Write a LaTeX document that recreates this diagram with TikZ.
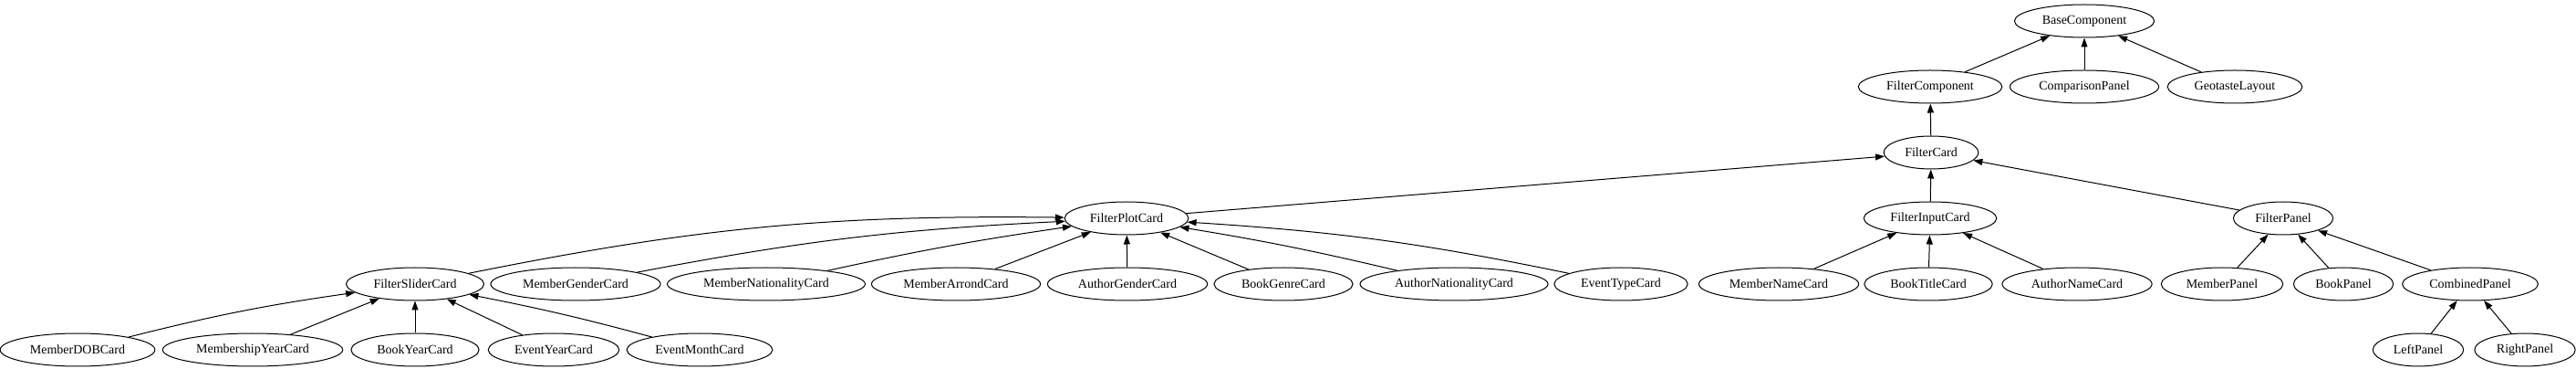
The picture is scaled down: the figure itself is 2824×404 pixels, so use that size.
\documentclass[tikz,border=0pt]{standalone}
\usepackage{fontspec}
\setmainfont{Liberation Serif}
\usepackage{tikz}
\usetikzlibrary{shapes.geometric, arrows.meta, positioning}

\begin{document}
\begin{tikzpicture}[
    x=1pt, y=1pt,
    cls/.style={ellipse, draw, line width=1pt, minimum height=36pt, inner xsep=7.9pt, inner ysep=0pt, font=\fontsize{14}{16}\selectfont},
    arrow/.style={-{Triangle[length=10pt, width=7pt]}, line width=1pt}
]
\useasboundingbox (0,0) rectangle (2824,404);

% Top
\node (base) [cls] at (2285,381) {BaseComponent};
\node (filtercomp) [cls] at (2116,309) {FilterComponent};
\node (comparison) [cls] at (2285,309) {ComparisonPanel};
\node (geotaste) [cls] at (2450,309) {GeotasteLayout};
\node (filtercard) [cls] at (2117,237) {FilterCard};

% Card families
\node (filterplot) [cls] at (1235,165) {FilterPlotCard};
\node (filterinput) [cls] at (2116,165) {FilterInputCard};
\node (filterpanel) [cls] at (2503,165) {FilterPanel};

% Leaves
\node (filterslider) [cls] at (455,93) {FilterSliderCard};
\node (membergender) [cls] at (631,93) {MemberGenderCard};
\node (membernat) [cls] at (840,93) {MemberNationalityCard};
\node (memberarrond) [cls] at (1048,93) {MemberArrondCard};
\node (authorgender) [cls] at (1236,93) {AuthorGenderCard};
\node (bookgenre) [cls] at (1407,93) {BookGenreCard};
\node (authornat) [cls] at (1594,93) {AuthorNationalityCard};
\node (eventtype) [cls] at (1777,93) {EventTypeCard};
\node (membername) [cls] at (1950,93) {MemberNameCard};
\node (booktitle) [cls] at (2114,93) {BookTitleCard};
\node (authorname) [cls] at (2277,93) {AuthorNameCard};
\node (memberpanel) [cls] at (2436,93) {MemberPanel};
\node (bookpanel) [cls] at (2569,93) {BookPanel};
\node (combined) [cls] at (2708,93) {CombinedPanel};

\node (memberdob) [cls] at (85,21) {MemberDOBCard};
\node (membershipyear) [cls] at (277,21) {MembershipYearCard};
\node (bookyear) [cls] at (455,21) {BookYearCard};
\node (eventyear) [cls] at (607,21) {EventYearCard};
\node (eventmonth) [cls] at (767,21) {EventMonthCard};
\node (leftpanel) [cls] at (2651,21) {LeftPanel};
\node (rightpanel) [cls] at (2768,21) {RightPanel};

% Arrows
\draw[arrow] (filtercomp) -- (base);
\draw[arrow] (comparison) -- (base);
\draw[arrow] (geotaste) -- (base);
\draw[arrow] (filtercard) -- (filtercomp);
\draw[arrow] (filterplot) -- (filtercard);
\draw[arrow] (filterinput) -- (filtercard);
\draw[arrow] (filterpanel) -- (filtercard);

\draw[arrow] (filterslider) to[bend left=6] (filterplot);
\draw[arrow] (membergender) to[bend left=4] (filterplot);
\draw[arrow] (membernat) to[bend left=2] (filterplot);
\draw[arrow] (memberarrond) -- (filterplot);
\draw[arrow] (authorgender) -- (filterplot);
\draw[arrow] (bookgenre) -- (filterplot);
\draw[arrow] (authornat) to[bend right=2] (filterplot);
\draw[arrow] (eventtype) to[bend right=4] (filterplot);

\draw[arrow] (membername) -- (filterinput);
\draw[arrow] (booktitle) -- (filterinput);
\draw[arrow] (authorname) -- (filterinput);
\draw[arrow] (memberpanel) -- (filterpanel);
\draw[arrow] (bookpanel) -- (filterpanel);
\draw[arrow] (combined) -- (filterpanel);

\draw[arrow] (memberdob) to[bend left=3] (filterslider);
\draw[arrow] (membershipyear) -- (filterslider);
\draw[arrow] (bookyear) -- (filterslider);
\draw[arrow] (eventyear) -- (filterslider);
\draw[arrow] (eventmonth) to[bend right=2] (filterslider);
\draw[arrow] (leftpanel) -- (combined);
\draw[arrow] (rightpanel) -- (combined);

\end{tikzpicture}
\end{document}
